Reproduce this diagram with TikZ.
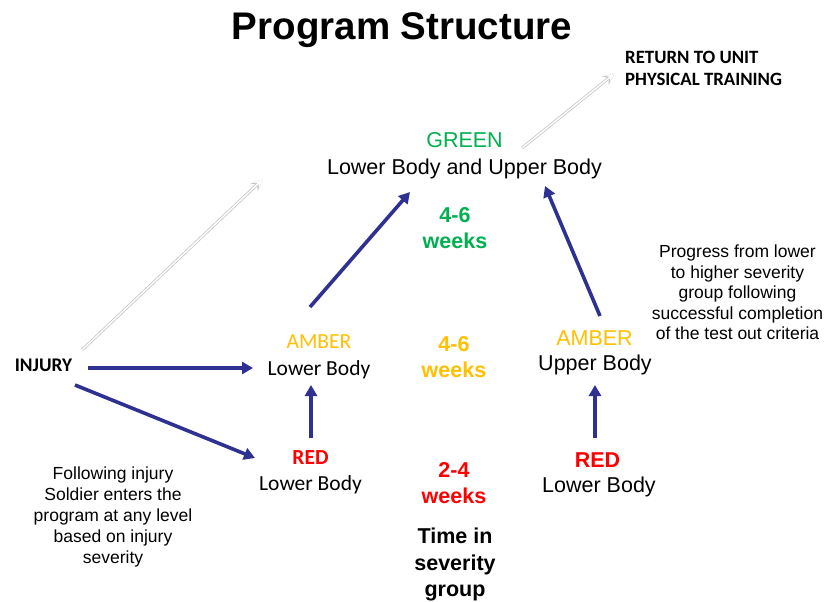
\documentclass[tikz,border=0pt]{standalone}
\usepackage{fontspec}
\setmainfont{Liberation Sans}
\newfontfamily\calibri{Carlito}
\usetikzlibrary{arrows.meta}

\definecolor{navy}{HTML}{2E3192}
\definecolor{greenc}{HTML}{00B050}
\definecolor{amberc}{HTML}{FFC000}
\definecolor{redc}{HTML}{FF0000}

\begin{document}
\begin{tikzpicture}[x=1pt,y=-1pt,
  lbl/.style={inner sep=0pt, anchor=base},
  big/.style={lbl, font=\fontsize{21.5}{26}\selectfont},
  cal/.style={lbl, font=\calibri\fontsize{21.5}{26}\selectfont},
  weeks/.style={inner sep=0pt, anchor=north, align=center,
                font=\bfseries\fontsize{21.5}{26}\selectfont},
  note/.style={inner sep=0pt, anchor=north, align=center,
               font=\fontsize{17.5}{21}\selectfont},
  flow/.style={draw=navy, line width=3.6pt,
               -{Triangle[length=11pt,width=12pt]}},
  ghost/.style={preaction={draw=black!22, line width=3pt,
                -{Stealth[length=12pt,width=10pt]}},
                draw=white, line width=1.4pt,
                -{Stealth[length=9pt,width=7pt]}}]

  % --- canvas -----------------------------------------------------
  \path[fill=white] (0,0) rectangle (829,600);

  % --- title ------------------------------------------------------
  \node[lbl, font=\bfseries\fontsize{38.5}{46}\selectfont] (title) at (402,39)
       {Program Structure};

  % --- severity groups --------------------------------------------
  \node[big, text=greenc] (greentag)  at (464.5,147) {GREEN};
  \node[big]              (greenbody) at (464.5,174) {Lower Body and Upper Body};

  \node[cal, text=amberc] (amberLtag) at (319,348) {AMBER};
  \node[cal]              (amberL)    at (319,375) {Lower Body};

  \node[cal, text=redc, font=\calibri\bfseries\fontsize{21.5}{26}\selectfont]
                          (redLtag)   at (310.5,464) {RED};
  \node[cal]              (redL)      at (310.5,490) {Lower Body};

  \node[big, text=amberc] (amberRtag) at (594.5,345) {AMBER};
  \node[big]              (amberR)    at (595,370) {Upper Body};

  \node[big, text=redc, font=\bfseries\fontsize{21.5}{26}\selectfont]
                          (redRtag)   at (597.5,467) {RED};
  \node[big]              (redR)      at (599,492) {Lower Body};

  % --- entry and exit ---------------------------------------------
  \node[lbl, font=\calibri\bfseries\fontsize{19.3}{23}\selectfont]
       (injury) at (43.5,371) {INJURY};
  \node[inner sep=0pt, anchor=north west, align=left,
        font=\calibri\bfseries\fontsize{18.8}{22}\selectfont]
       (return) at (625,51) {RETURN TO UNIT\\PHYSICAL TRAINING};

  % --- time columns -----------------------------------------------
  \node[weeks, text=greenc] (weeksG) at (455,207) {4-6\\weeks};
  \node[weeks, text=amberc] (weeksA) at (454,336) {4-6\\weeks};
  \node[weeks, text=redc]   (weeksR) at (454,462) {2-4\\weeks};
  \node[weeks, font=\bfseries\fontsize{21.5}{26.5}\selectfont]
       (timein) at (455,528) {Time in\\severity\\group};

  % --- side notes -------------------------------------------------
  \node[note] (injnote) at (113,467)
       {Following injury\\Soldier enters the\\program at any level\\based on injury\\severity};
  \node[note, font=\fontsize{17.5}{20.5}\selectfont] (progress) at (737.5,245)
       {Progress from lower\\to higher severity\\group following\\successful completion\\of the test out criteria};

  % --- progression arrows -----------------------------------------
  \draw[flow] ([shift={(44.5,-3)}]injury.base) -- ([shift={(-66,-7)}]amberL.base);
  \draw[flow] ([shift={(31.5,14)}]injury.base) -- ([shift={(-55.5,-6)}]redLtag.base);
  \draw[flow] ([shift={(0.5,-26)}]redLtag.base) -- ([shift={(-8,10)}]amberL.base);
  \draw[flow] ([shift={(-9,-41)}]amberLtag.base) -- ([shift={(-54.5,18)}]greenbody.base);
  \draw[flow] ([shift={(-2.5,-29)}]redRtag.base) -- ([shift={(0,15)}]amberR.base);
  \draw[flow] ([shift={(5.5,-29)}]amberRtag.base) -- ([shift={(80.5,12)}]greenbody.base);

  % --- faint arrows -----------------------------------------------
  \coordinate (rise) at (263,179);
  \draw[ghost] ([shift={(38.5,-21)}]injury.base) -- (rise);
  \draw[ghost] ([shift={(57.5,1)}]greentag.base) -- ([shift={(-10,22)}]return.north west);

\end{tikzpicture}
\end{document}
